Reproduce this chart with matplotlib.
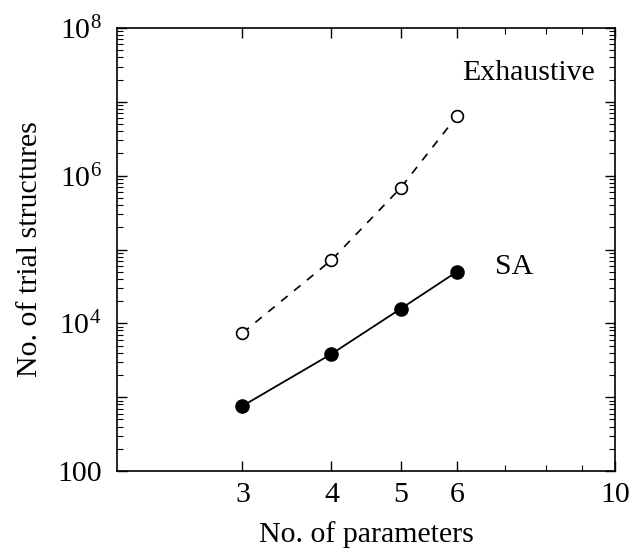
import matplotlib
matplotlib.use("Agg")
import matplotlib.pyplot as plt
from matplotlib.ticker import FixedLocator, FixedFormatter, LogLocator, NullFormatter

plt.rcParams["font.family"] = "Liberation Serif"
plt.rcParams["mathtext.fontset"] = "custom"
plt.rcParams["mathtext.rm"] = "Liberation Serif"
plt.rcParams["mathtext.it"] = "Liberation Serif:italic"

# number of fitted parameters vs. trial structures needed
n_params = [3, 4, 5, 6]
exhaustive = [7400, 72000, 680000, 6400000]
sa = [760, 3850, 15700, 50000]

x_ticks = [3, 4, 5, 6, 10]
x_labels = ["3", "4", "5", "6", "10"]
x_minor = [7, 8, 9]
y_ticks = [1e2, 1e3, 1e4, 1e5, 1e6, 1e7, 1e8]
y_labels = ["100", "", r"$10^4$", "", r"$10^6$", "", r"$10^8$"]

FS = 21.5

fig = plt.figure(figsize=(6.33, 5.52), dpi=100)
ax = fig.add_axes([117 / 633, 1 - 471 / 552, 498 / 633, 443 / 552])

ax.plot(n_params, exhaustive, color="black", lw=1.2, ls=(0, (5, 5)),
        marker="o", ms=8.5, mfc="white", mec="black", mew=1.2)
ax.plot(n_params, sa, color="black", lw=1.3,
        marker="o", ms=9.5, mfc="black", mec="black")

ax.set_xscale("log")
ax.set_yscale("log")
ax.set_xlim(2, 10)
ax.set_ylim(1e2, 1e8)

ax.xaxis.set_major_locator(FixedLocator(x_ticks))
ax.xaxis.set_major_formatter(FixedFormatter(x_labels))
ax.xaxis.set_minor_locator(FixedLocator(x_minor))
ax.xaxis.set_minor_formatter(NullFormatter())

ax.yaxis.set_major_locator(FixedLocator(y_ticks))
ax.yaxis.set_major_formatter(FixedFormatter(y_labels))
ax.yaxis.set_minor_locator(LogLocator(base=10, subs=range(2, 10), numticks=10))
ax.yaxis.set_minor_formatter(NullFormatter())

ax.tick_params(which="both", direction="in", top=True, right=True,
               labelsize=FS, colors="black")
ax.tick_params(which="major", length=7, width=1.0)
ax.tick_params(which="minor", length=4, width=0.8)
ax.tick_params(axis="x", which="major", pad=8)
ax.tick_params(axis="y", which="major", pad=11)

for s in ax.spines.values():
    s.set_linewidth(1.2)

ax.set_xlabel("No. of parameters", fontsize=FS, labelpad=9)
ax.set_ylabel("No. of trial structures", fontsize=FS, labelpad=10)

ax.text(0.827, 0.898, "Exhaustive", transform=ax.transAxes,
        fontsize=FS, ha="center", va="center")
ax.text(0.797, 0.46, "SA", transform=ax.transAxes,
        fontsize=FS, ha="center", va="center")

fig.savefig("out.png", dpi=100)
